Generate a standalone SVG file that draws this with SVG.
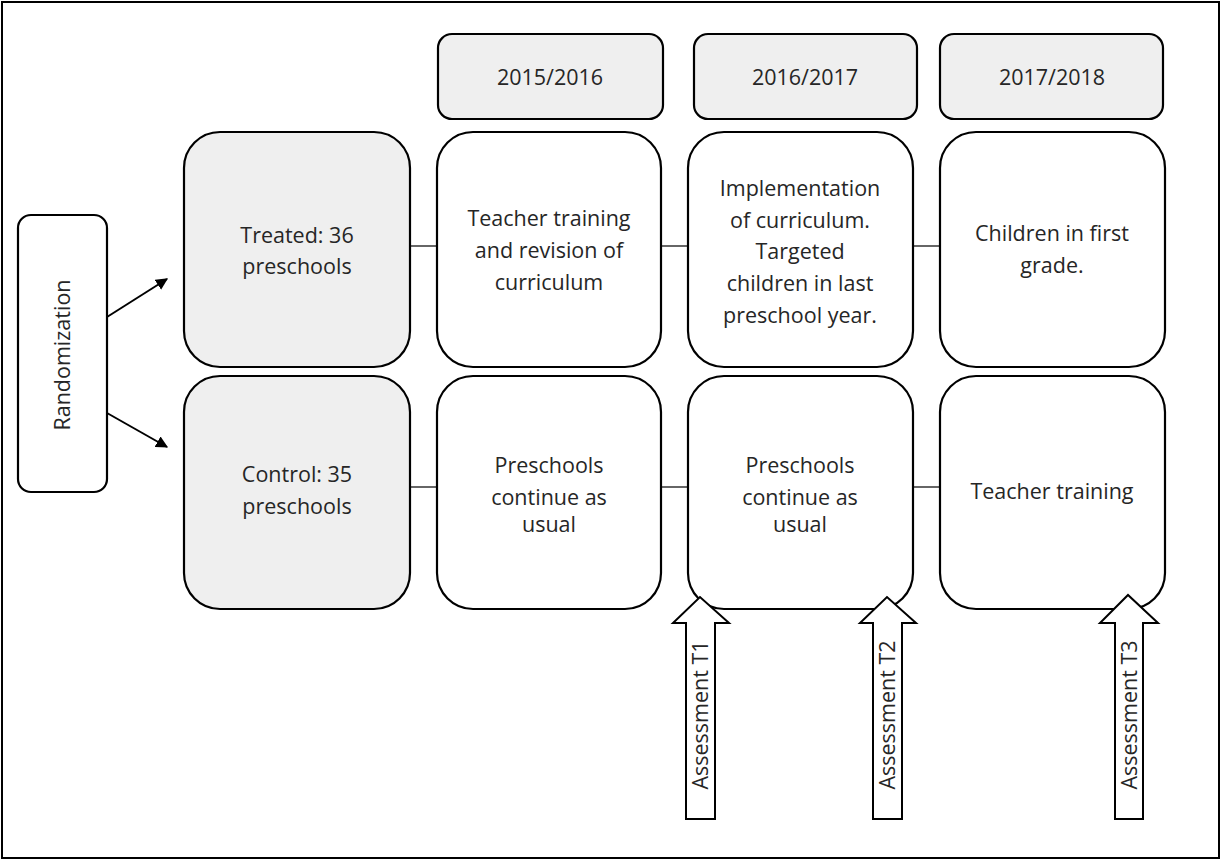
<svg xmlns="http://www.w3.org/2000/svg" width="1221" height="860" viewBox="0 0 1221 860">
<defs>
<style>
.box{fill:#ffffff;stroke:#000;stroke-width:2.2}
.gray{fill:#efefef;stroke:#000;stroke-width:2.2}
.t{font-family:"Open Sans","Noto Sans",sans-serif;font-size:21.5px;fill:#262626;text-anchor:middle}
.ln{stroke:#000;stroke-width:1.2;fill:none}
.arr{stroke:#000;stroke-width:2;fill:none}
.big{fill:#fff;stroke:#000;stroke-width:2}
</style>
<marker id="ah" viewBox="0 0 10 10" refX="9" refY="5" markerWidth="6" markerHeight="6" orient="auto" markerUnits="strokeWidth">
<path d="M0,0 L10,5 L0,10 z" fill="#000"/>
</marker>
</defs>
<rect x="0" y="0" width="1221" height="860" fill="#fff"/>
<rect x="2" y="2" width="1217" height="856" fill="none" stroke="#000" stroke-width="2"/>

<g id="connectors">
<line class="arr" x1="107" y1="317" x2="167" y2="279" marker-end="url(#ah)"/>
<line class="arr" x1="107" y1="413" x2="167" y2="447" marker-end="url(#ah)"/>
<line class="ln" x1="410" y1="246" x2="437" y2="246"/>
<line class="ln" x1="661" y1="246" x2="688" y2="246"/>
<line class="ln" x1="913" y1="246" x2="940" y2="246"/>
<line class="ln" x1="410" y1="487" x2="437" y2="487"/>
<line class="ln" x1="661" y1="487" x2="688" y2="487"/>
<line class="ln" x1="913" y1="487" x2="940" y2="487"/>
</g>

<g id="randomization">
<rect class="box" x="18" y="215" width="89" height="277" rx="13"/>
<text class="t" transform="translate(70,355) rotate(-90)">Randomization</text>
</g>

<g id="year1"><rect class="gray" x="438" y="34" width="225" height="85" rx="14"/><text class="t" x="550" y="85">2015/2016</text></g>
<g id="year2"><rect class="gray" x="694" y="34" width="223" height="85" rx="14"/><text class="t" x="805" y="85">2016/2017</text></g>
<g id="year3"><rect class="gray" x="940" y="34" width="223" height="85" rx="14"/><text class="t" x="1052" y="85">2017/2018</text></g>

<g id="treated"><rect class="gray" x="184" y="132" width="226" height="235" rx="36"/>
<text class="t" x="297" y="243">Treated: 36</text><text class="t" x="297" y="274">preschools</text></g>
<g id="t2016"><rect class="box" x="437" y="132" width="224" height="235" rx="36"/>
<text class="t" x="549" y="226">Teacher training</text><text class="t" x="549" y="258">and revision of</text><text class="t" x="549" y="290">curriculum</text></g>
<g id="t2017"><rect class="box" x="688" y="132" width="225" height="235" rx="36"/>
<text class="t" x="800" y="196">Implementation</text><text class="t" x="800" y="228">of curriculum.</text><text class="t" x="800" y="259">Targeted</text><text class="t" x="800" y="291">children in last</text><text class="t" x="800" y="323">preschool year.</text></g>
<g id="t2018"><rect class="box" x="940" y="132" width="225" height="235" rx="36"/>
<text class="t" x="1052" y="241">Children in first</text><text class="t" x="1052" y="273">grade.</text></g>

<g id="control"><rect class="gray" x="184" y="376" width="226" height="233" rx="36"/>
<text class="t" x="297" y="482">Control: 35</text><text class="t" x="297" y="514">preschools</text></g>
<g id="c2016"><rect class="box" x="437" y="376" width="224" height="233" rx="36"/>
<text class="t" x="549" y="473">Preschools</text><text class="t" x="549" y="505">continue as</text><text class="t" x="549" y="532">usual</text></g>
<g id="c2017"><rect class="box" x="688" y="376" width="225" height="233" rx="36"/>
<text class="t" x="800" y="473">Preschools</text><text class="t" x="800" y="505">continue as</text><text class="t" x="800" y="532">usual</text></g>
<g id="c2018"><rect class="box" x="940" y="376" width="225" height="233" rx="36"/>
<text class="t" x="1052" y="499">Teacher training</text></g>

<g id="assessT1"><path class="big" d="M686,819 L686,623 L673,623 L700,597 L729,623 L715,623 L715,819 Z"/>
<text class="t" transform="translate(708,715) rotate(-90)">Assessment T1</text></g>
<g id="assessT2"><path class="big" d="M873,819 L873,623 L860,623 L887,597 L916,623 L902,623 L902,819 Z"/>
<text class="t" transform="translate(895,715) rotate(-90)">Assessment T2</text></g>
<g id="assessT3"><path class="big" d="M1115,819 L1115,623 L1100,623 L1128,595 L1158,623 L1143,623 L1143,819 Z"/>
<text class="t" transform="translate(1137,715) rotate(-90)">Assessment T3</text></g>
</svg>
